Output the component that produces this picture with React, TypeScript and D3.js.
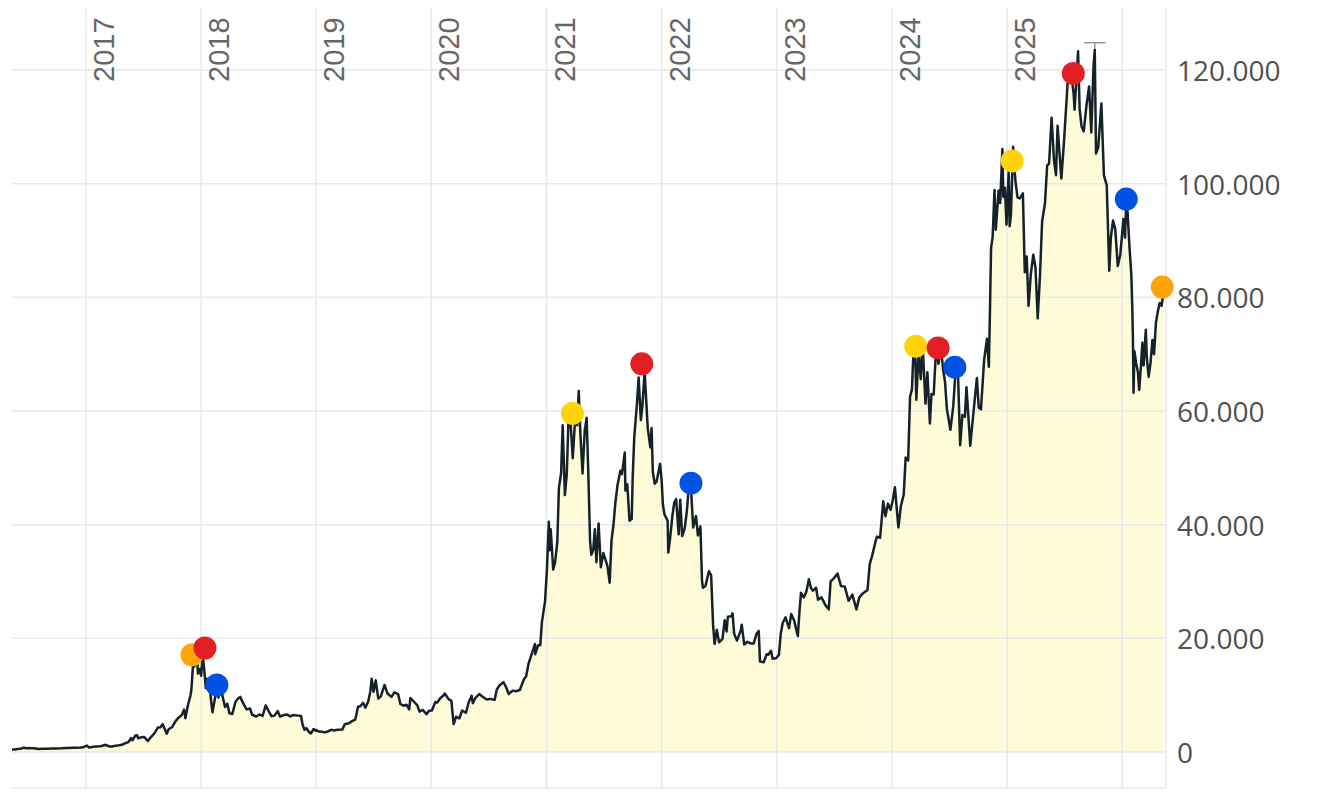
import * as d3 from "d3";

// daily-ish closes, grouped per year: [MM-DD, USD]
const btc2016: [string, number][] = [
  ["05-11", 450], ["05-20", 440], ["05-28", 520], ["06-05", 575], ["06-12", 670], ["06-18", 750],
  ["06-25", 660], ["07-02", 700], ["07-10", 650], ["07-20", 665], ["08-02", 545], ["08-15", 570],
  ["09-01", 575], ["09-15", 608], ["10-01", 615], ["10-15", 640], ["10-28", 690], ["11-05", 705],
  ["11-20", 730], ["12-01", 755], ["12-15", 780], ["12-25", 890],
];
const btc2017: [string, number][] = [
  ["01-04", 1130], ["01-11", 780], ["01-20", 895], ["02-01", 985], ["02-15", 1010], ["02-25", 1150],
  ["03-03", 1270], ["03-10", 1100], ["03-18", 970], ["03-25", 965], ["04-05", 1120], ["04-15", 1180],
  ["04-25", 1265], ["05-05", 1550], ["05-15", 1730], ["05-24", 2450], ["05-28", 2050], ["06-06", 2860],
  ["06-12", 2950], ["06-15", 2420], ["06-25", 2580], ["07-05", 2620], ["07-16", 1930], ["07-25", 2580],
  ["08-05", 3220], ["08-17", 4330], ["08-25", 4350], ["09-01", 4900], ["09-14", 3230], ["09-20", 4000],
  ["10-01", 4400], ["10-12", 5430], ["10-20", 6000], ["10-31", 6450], ["11-08", 7450], ["11-12", 5950],
  ["11-20", 8200], ["11-28", 9900], ["12-01", 10900], ["12-07", 16000], ["12-10", 15000], ["12-17", 18800],
  ["12-22", 13800], ["12-28", 14600],
];
const btc2018: [string, number][] = [
  ["01-01", 13400], ["01-06", 17100], ["01-12", 13800], ["01-16", 11200], ["01-20", 12900], ["01-28", 11500],
  ["02-02", 8800], ["02-06", 7000], ["02-12", 8900], ["02-20", 11200], ["02-25", 9600], ["03-04", 11500],
  ["03-12", 9300], ["03-18", 7900], ["03-25", 8500], ["04-01", 6800], ["04-10", 6700], ["04-20", 8850],
  ["04-28", 9400], ["05-05", 9700], ["05-15", 8500], ["05-25", 7500], ["06-05", 7650], ["06-12", 6550],
  ["06-25", 6250], ["07-05", 6600], ["07-15", 6350], ["07-25", 8200], ["08-05", 7000], ["08-12", 6300],
  ["08-22", 6400], ["09-01", 7200], ["09-08", 6250], ["09-20", 6500], ["10-01", 6600], ["10-11", 6250],
  ["10-20", 6500], ["11-05", 6400], ["11-14", 6350], ["11-19", 4800], ["11-25", 3900], ["12-01", 4200],
  ["12-08", 3600], ["12-15", 3250], ["12-24", 4050], ["12-31", 3750],
];
const btc2019: [string, number][] = [
  ["01-01", 3850], ["01-10", 3600], ["01-20", 3550], ["01-28", 3450], ["02-08", 3650], ["02-18", 3900],
  ["02-25", 3800], ["03-10", 3930], ["03-25", 3950], ["04-02", 4900], ["04-15", 5050], ["04-25", 5450],
  ["05-05", 5700], ["05-14", 8000], ["05-20", 8000], ["05-30", 8650], ["06-06", 7800], ["06-15", 8900],
  ["06-22", 10700], ["06-26", 12900], ["07-02", 10600], ["07-09", 12600], ["07-17", 9400], ["07-25", 9800],
  ["08-06", 11800], ["08-15", 10300], ["08-28", 9700], ["09-06", 10500], ["09-18", 10200], ["09-25", 8450],
  ["10-05", 8150], ["10-15", 8300], ["10-23", 7500], ["10-27", 9500], ["11-08", 8800], ["11-18", 8200],
  ["11-25", 7100], ["12-05", 7400], ["12-17", 6650], ["12-25", 7250],
];
const btc2020: [string, number][] = [
  ["01-03", 7300], ["01-14", 8800], ["01-20", 8700], ["01-30", 9500], ["02-08", 9900], ["02-13", 10300],
  ["02-25", 9300], ["03-05", 9000], ["03-12", 4900], ["03-20", 6200], ["03-30", 5900], ["04-08", 7300],
  ["04-20", 6900], ["04-29", 8750], ["05-08", 9900], ["05-12", 8600], ["05-20", 9500], ["06-01", 10200],
  ["06-10", 9800], ["06-25", 9250], ["07-06", 9350], ["07-20", 9170], ["07-27", 11000], ["08-05", 11750],
  ["08-17", 12300], ["08-26", 11350], ["09-03", 10200], ["09-15", 10800], ["09-25", 10700], ["10-08", 10900],
  ["10-21", 12800], ["10-28", 13300], ["11-05", 15600], ["11-17", 17600], ["11-25", 19000], ["11-26", 17200],
  ["12-05", 18800], ["12-12", 18800], ["12-17", 22800], ["12-27", 26500],
];
const btc2021: [string, number][] = [
  ["01-02", 32100], ["01-08", 40500], ["01-11", 35500], ["01-14", 39200], ["01-22", 32100], ["01-28", 33400],
  ["02-04", 37000], ["02-09", 46400], ["02-16", 49100], ["02-21", 57500], ["02-28", 45200], ["03-06", 48900],
  ["03-13", 61200], ["03-17", 58900], ["03-25", 51700], ["04-02", 59000], ["04-08", 57500], ["04-13", 63500],
  ["04-18", 56200], ["04-25", 49000], ["05-02", 56600], ["05-08", 58800], ["05-13", 49700], ["05-19", 37000],
  ["05-23", 34700], ["05-29", 35600], ["06-03", 39200], ["06-08", 33400], ["06-15", 40200], ["06-22", 32500],
  ["06-30", 35000], ["07-07", 33800], ["07-13", 32700], ["07-20", 29800], ["07-26", 37300], ["08-01", 39900],
  ["08-07", 43800], ["08-14", 47000], ["08-23", 49500], ["08-28", 48900], ["09-06", 52700], ["09-08", 46000],
  ["09-14", 47100], ["09-21", 40700], ["09-28", 41000], ["10-01", 48200], ["10-06", 55300], ["10-15", 61600],
  ["10-20", 65900], ["10-27", 58400], ["11-01", 61000], ["11-08", 66900], ["11-10", 64900], ["11-18", 56900],
  ["11-26", 53600], ["11-30", 57000], ["12-04", 49300], ["12-10", 47200], ["12-16", 47600], ["12-27", 50700],
];
const btc2022: [string, number][] = [
  ["01-01", 47700], ["01-05", 43500], ["01-10", 41800], ["01-20", 40700], ["01-22", 35100], ["01-28", 37700],
  ["02-04", 41500], ["02-10", 43900], ["02-16", 44500], ["02-24", 38300], ["03-01", 44400], ["03-07", 38000],
  ["03-15", 39300], ["03-22", 42400], ["03-29", 47400], ["04-05", 45500], ["04-11", 39500], ["04-20", 41500],
  ["04-26", 38100], ["05-04", 39700], ["05-09", 30100], ["05-12", 28900], ["05-20", 29200], ["05-31", 31800],
  ["06-07", 31100], ["06-13", 22500], ["06-18", 19000], ["06-25", 21500], ["07-02", 19300], ["07-13", 19900],
  ["07-20", 23200], ["07-26", 21200], ["07-30", 23800], ["08-10", 23900], ["08-14", 24400], ["08-19", 20800],
  ["08-28", 19600], ["09-09", 21400], ["09-12", 22400], ["09-20", 18900], ["09-30", 19400], ["10-10", 19100],
  ["10-20", 19100], ["10-29", 20800], ["11-05", 21300], ["11-09", 15900], ["11-21", 15800], ["11-30", 17200],
  ["12-05", 17100], ["12-14", 17800], ["12-19", 16400], ["12-31", 16550],
];
const btc2023: [string, number][] = [
  ["01-08", 17100], ["01-14", 20900], ["01-20", 22700], ["01-29", 23700], ["02-09", 21800], ["02-16", 24300],
  ["02-25", 23200], ["03-09", 20400], ["03-14", 24600], ["03-19", 28000], ["03-28", 27200], ["04-05", 28200],
  ["04-13", 30400], ["04-20", 28800], ["04-26", 28400], ["05-06", 28900], ["05-12", 26800], ["05-23", 27200],
  ["06-05", 25800], ["06-15", 25100], ["06-21", 30000], ["06-30", 30500], ["07-13", 31400], ["07-24", 29200],
  ["08-05", 29100], ["08-17", 26600], ["08-29", 27700], ["09-11", 25100], ["09-20", 27200], ["10-01", 27900],
  ["10-16", 28500], ["10-23", 33000], ["10-31", 34600], ["11-09", 36700], ["11-15", 37900], ["11-25", 37700],
  ["12-05", 44100], ["12-12", 41500], ["12-20", 43700], ["12-28", 42600],
];
const btc2024: [string, number][] = [
  ["01-04", 44200], ["01-11", 46600], ["01-17", 42700], ["01-22", 39500], ["01-30", 43300], ["02-08", 45300],
  ["02-14", 51800], ["02-22", 51300], ["02-28", 62500], ["03-05", 63800], ["03-11", 72100], ["03-14", 73100],
  ["03-19", 62000], ["03-26", 70600], ["04-02", 65600], ["04-08", 71600], ["04-17", 61300], ["04-23", 66800],
  ["05-01", 57800], ["05-06", 63000], ["05-13", 62900], ["05-21", 71400], ["05-28", 68300], ["06-05", 71100],
  ["06-12", 67300], ["06-18", 65100], ["06-24", 60300], ["07-05", 56700], ["07-14", 60800], ["07-22", 67600],
  ["07-29", 66800], ["08-05", 54000], ["08-12", 59300], ["08-20", 59000], ["08-25", 64200], ["09-06", 53900],
  ["09-15", 59100], ["09-27", 65800], ["10-03", 60600], ["10-10", 60300], ["10-20", 69000], ["10-29", 72700],
  ["11-04", 67800], ["11-07", 76000], ["11-11", 88700], ["11-16", 90600], ["11-22", 98900], ["11-26", 91900],
  ["12-05", 98800], ["12-10", 96600], ["12-17", 106100], ["12-20", 97700], ["12-25", 99300], ["12-30", 92800],
];
const btc2025: [string, number][] = [
  ["01-06", 102200], ["01-09", 92500], ["01-13", 94500], ["01-20", 106500], ["01-27", 100600], ["02-03", 97600],
  ["02-10", 97400], ["02-20", 98300], ["02-26", 84400], ["03-04", 87200], ["03-10", 78500], ["03-17", 84000],
  ["03-25", 87500], ["04-01", 85200], ["04-08", 76300], ["04-15", 83600], ["04-22", 93400], ["05-01", 96500],
  ["05-08", 103200], ["05-14", 103500], ["05-22", 111600], ["05-30", 103900], ["06-05", 101500], ["06-10", 110200],
  ["06-22", 100900], ["06-30", 107100], ["07-10", 116000], ["07-14", 119800], ["07-22", 119900], ["07-31", 115800],
  ["08-03", 113000], ["08-14", 123300], ["08-19", 113200], ["08-25", 110100], ["09-01", 109200], ["09-10", 113900],
  ["09-18", 117100], ["09-25", 109000], ["10-02", 120600], ["10-06", 123500], ["10-10", 105300], ["10-17", 106400],
  ["10-27", 114100], ["11-04", 101500], ["11-13", 99700], ["11-21", 84700], ["11-26", 90500], ["12-03", 93500],
  ["12-10", 92000], ["12-18", 85500], ["12-26", 87500],
];
const btc2026: [string, number][] = [
  ["01-05", 93800], ["01-10", 90500], ["01-14", 97000], ["01-18", 95000], ["01-24", 89000], ["01-30", 84000],
  ["02-02", 78300], ["02-04", 73000], ["02-06", 63200], ["02-09", 70500], ["02-14", 68500], ["02-20", 66800],
  ["02-24", 63700], ["03-01", 67500], ["03-06", 72000], ["03-10", 68000], ["03-17", 74300], ["03-20", 69500],
  ["03-26", 66000], ["04-01", 68500], ["04-07", 72500], ["04-12", 70000], ["04-18", 75500], ["04-24", 77500],
  ["04-30", 79000], ["05-06", 78500], ["05-11", 80500],
];

// signal dots
const signalDates = [
  "2017-12-03", "2018-01-13", "2018-02-20", "2021-03-24", "2021-10-30", "2022-04-04", "2024-03-17",
  "2024-05-27", "2024-07-19", "2025-01-17", "2025-07-30", "2026-01-14", "2026-05-08",
];
const signalValues = [17100, 18300, 11800, 59600, 68300, 47300, 71400, 71100, 67700, 104000, 119400, 97300, 81800];
const signalKinds = [
  "orange", "red", "blue", "yellow", "red", "blue", "yellow", "red", "blue", "yellow", "red", "blue", "orange",
];
const kindColors: Record<string, string> = {
  red: "#e31f26",
  orange: "#ffa405",
  yellow: "#ffd20a",
  blue: "#0052e3",
};

// intraday high marker
const highDate = "2025-10-06";
const highValue = 124800;
const highClose = 123500;

const yTicks = [0, 20000, 40000, 60000, 80000, 100000, 120000];
const yearTicks = [2017, 2018, 2019, 2020, 2021, 2022, 2023, 2024, 2025, 2026];
const yearLabels = [2017, 2018, 2019, 2020, 2021, 2022, 2023, 2024, 2025];

const parse = d3.timeParse("%Y-%m-%d");
const years: [number, [string, number][]][] = [
  [2016, btc2016], [2017, btc2017], [2018, btc2018], [2019, btc2019], [2020, btc2020], [2021, btc2021],
  [2022, btc2022], [2023, btc2023], [2024, btc2024], [2025, btc2025], [2026, btc2026],
];
const series = years.flatMap(([yr, rows]) =>
  rows.map(([md, v]) => ({ date: parse(`${yr}-${md}`) as Date, value: v }))
);

const fmt = d3
  .formatLocale({ decimal: ",", thousands: ".", grouping: [3], currency: ["", ""] })
  .format(",d");

export default function App() {
  const width = 1332;
  const height = 794;
  const left = 12;
  const right = 1166;
  const top = 8;
  const bottom = 788;

  const x = d3.scaleTime([parse("2016-05-11") as Date, parse("2026-05-20") as Date], [left, right]);
  const y = d3.scaleLinear([0, 120000], [752, 70]);

  const line = d3
    .line<{ date: Date; value: number }>()
    .x((d) => x(d.date))
    .y((d) => y(d.value));
  const area = d3
    .area<{ date: Date; value: number }>()
    .x((d) => x(d.date))
    .y0(y(0))
    .y1((d) => y(d.value));

  const hx = x(parse(highDate) as Date);

  return (
    <svg
      width={width}
      height={height}
      style={{ position: "absolute", left: 0, top: 0, background: "#fff" }}
    >
      <path d={area(series) ?? ""} fill="#fefbd9" />

      <g stroke="#e9e9e9" strokeWidth={1.5}>
        {yTicks.map((t) => (
          <line key={t} x1={left} x2={right} y1={y(t)} y2={y(t)} />
        ))}
        {yearTicks.map((yr) => {
          const xx = x(new Date(yr, 0, 1));
          return <line key={yr} x1={xx} x2={xx} y1={top} y2={bottom} />;
        })}
        <line x1={left} x2={right} y1={bottom} y2={bottom} />
        <line x1={right} x2={right} y1={top} y2={bottom} />
      </g>

      <g fontFamily="Liberation Sans, Arial, sans-serif" fontSize={29} fill="#666">
        {yearLabels.map((yr) => {
          const xx = x(new Date(yr, 0, 1));
          return (
            <text key={yr} transform={`translate(${xx + 28},82) rotate(-90)`}>
              {yr}
            </text>
          );
        })}
      </g>

      <g fontFamily="Open Sans, sans-serif" fontSize={28} fill="#505050">
        {yTicks.map((t) => (
          <text key={t} x={1177} y={y(t)} dominantBaseline="central">
            {fmt(t)}
          </text>
        ))}
      </g>

      <g stroke="#999" strokeWidth={1.5}>
        <line x1={hx} x2={hx} y1={y(highValue)} y2={y(highClose)} />
        <line x1={hx - 11} x2={hx + 11} y1={y(highValue)} y2={y(highValue)} />
      </g>

      <path d={line(series) ?? ""} fill="none" stroke="#16222a" strokeWidth={2.5} strokeLinejoin="round" />

      {signalDates.map((d, i) => (
        <circle
          key={d}
          cx={x(parse(d) as Date)}
          cy={y(signalValues[i])}
          r={11.5}
          fill={kindColors[signalKinds[i]]}
        />
      ))}
    </svg>
  );
}
